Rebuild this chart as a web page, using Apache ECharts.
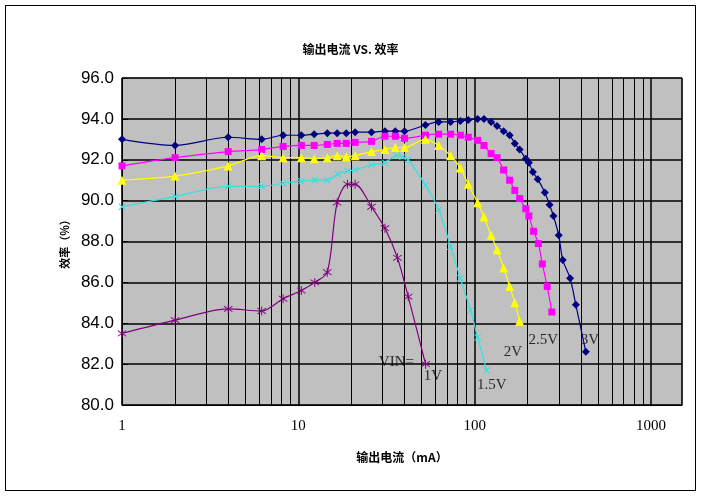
<!DOCTYPE html>
<html><head><meta charset="utf-8">
<script src="https://cdn.jsdelivr.net/npm/echarts@6/dist/echarts.min.js"></script>
<style>html,body{margin:0;padding:0;background:#fff}#c{width:701px;height:496px}
#b{position:absolute;left:5px;top:5px;width:689px;height:484px;border:1px solid #000;pointer-events:none}</style>
</head><body><div id="c"></div><div id="b"></div>
<script>
const title = '输出电流 VS. 效率';
const xName = '输出电流（mA）';
const yName = '效率（%）';
const v3 = [[1,93.0],[2,92.7],[4,93.1],[6.2,93.0],[8.2,93.2],[10.4,93.2],[12.3,93.25],[14.6,93.3],[16.6,93.3],[18.7,93.3],[21,93.35],[26,93.35],[31,93.4],[35.5,93.4],[40,93.4],[52.6,93.7],[62.5,93.85],[73,93.85],[83,93.9],[92,93.95],[104,94.0],[113,94.0],[124,93.85],[134,93.65],[146,93.4],[158,93.2],[169,92.8],[180,92.5],[195,92.05],[203,91.85],[214,91.4],[228,91.05],[250,90.4],[266,89.8],[280,89.25],[300,88.3],[316,87.1],[348,86.2],[375,84.9],[427,82.6]];
const v25 = [[1,91.7],[2,92.1],[4,92.4],[6.2,92.5],[8.2,92.65],[10.4,92.7],[12.3,92.7],[14.6,92.75],[16.6,92.8],[18.7,92.8],[21,92.85],[26,92.9],[31,93.15],[35.5,93.15],[40,93.05],[52.6,93.2],[62.5,93.25],[73,93.25],[83,93.2],[92,93.1],[104,92.95],[113,92.7],[124,92.3],[134,92.1],[146,91.5],[158,91.0],[169,90.5],[180,90.1],[195,89.6],[203,89.25],[216,88.5],[230,87.9],[242,86.9],[258,85.8],[274,84.55]];
const v2 = [[1,91.0],[2,91.2],[4,91.7],[6.2,92.2],[8.2,92.1],[10.4,92.1],[12.3,92.05],[14.6,92.1],[16.6,92.2],[18.7,92.15],[21,92.2],[26,92.4],[31,92.5],[35.5,92.6],[40,92.6],[52.6,93.0],[62.5,92.7],[73,92.2],[83,91.6],[92,90.8],[104,89.9],[113,89.2],[124,88.3],[134,87.6],[146,86.7],[158,85.8],[169,85.0],[180,84.1]];
const v15 = [[1,89.7],[2,90.2],[4,90.7],[6.2,90.7],[8.2,90.85],[10.4,90.95],[12.4,91.0],[14.6,91.0],[16.8,91.3],[19,91.45],[21,91.5],[26,91.75],[31,91.85],[36,92.2],[39,92.15],[42,92.0],[52.7,90.75],[62.6,89.55],[73,87.75],[83,86.2],[94.7,84.65],[104,83.3],[117,81.7]];
const v1 = [[1,83.5],[2,84.15],[4,84.7],[6.2,84.6],[8.2,85.2],[10.4,85.6],[12.4,86.0],[14.6,86.5],[16.6,89.9],[19,90.8],[21,90.8],[26,89.7],[31,88.65],[36.5,87.2],[42,85.3],[52.7,82.0]];
const xTicks = [1,10,100,1000];
const minorX = [2,3,4,5,6,7,8,9,20,30,40,50,60,70,80,90,200,300,400,500,600,700,800,900];
const labels = [['VIN=',36,82.1],['1V',58,81.4],['1.5V',125,81.0],['2V',165,82.6],['2.5V',245,83.2],['3V',450,83.2]];
const cross = 'path://M0,1L1,0L5,4L9,0L10,1L6,5L10,9L9,10L5,6L1,10L0,9L4,5Z';
const star = 'path://M4.5,0H5.5V4.2L9,1.5L9.6,2.3L6,5L9.6,7.7L9,8.5L5.5,5.8V10H4.5V5.8L1,8.5L0.4,7.7L4,5L0.4,2.3L1,1.5L4.5,4.2Z';
function ser(name,data,color,sym,size){return {name,type:'line',data,smooth:0.3,symbol:sym,symbolSize:size,lineStyle:{color,width:1.2},itemStyle:{color},z:5};}
const chart = echarts.init(document.getElementById('c'));
chart.setOption({
  animation:false,
  title:{text:title,left:'center',top:38,textStyle:{fontSize:12,fontWeight:'bold',color:'#000',fontFamily:'Noto Sans CJK SC'}},
  grid:{left:122,right:19,top:78,bottom:91,show:true,backgroundColor:'#c0c0c0',borderColor:'#808080',borderWidth:1},
  xAxis:{type:'log',min:1,max:1500,name:xName,nameLocation:'middle',nameGap:46,
    nameTextStyle:{fontSize:12,fontWeight:'bold',color:'#000',fontFamily:'Noto Sans CJK SC'},
    axisLine:{lineStyle:{color:'#000'}},axisTick:{show:false},
    axisLabel:{fontSize:15,color:'#000',fontFamily:'Liberation Serif',margin:14,formatter:v=>xTicks.includes(Math.round(v))?String(Math.round(v)):''},
    splitLine:{show:true,lineStyle:{color:'#000',width:1.5}}},
  yAxis:{type:'value',min:80,max:96,interval:2,name:yName,nameLocation:'middle',nameGap:50,
    nameTextStyle:{fontSize:11,fontWeight:'bold',color:'#000',fontFamily:'Noto Sans CJK SC'},
    axisLine:{show:true,lineStyle:{color:'#000'}},axisTick:{show:true,inside:true,length:6,lineStyle:{color:'#000'}},
    axisLabel:{fontSize:17,color:'#000',fontFamily:'Liberation Sans',formatter:v=>v.toFixed(1)},
    splitLine:{show:true,lineStyle:{color:'#000',width:1.5}}},
  series:[
    {type:'line',data:[],silent:true,markLine:{silent:true,symbol:'none',label:{show:false},lineStyle:{color:'#000',width:1,type:'solid'},data:minorX.map(v=>({xAxis:v}))}},
    ser('3V',v3,'#000080','diamond',8),
    ser('2.5V',v25,'#ff00ff','rect',7),
    ser('2V',v2,'#ffff00','triangle',9),
    ser('1.5V',v15,'#33e0e0',cross,7),
    ser('1V',v1,'#800080',star,9),
    {type:'scatter',data:labels.map(l=>[l[1],l[2]]),symbolSize:0,z:6,silent:true,
      label:{show:true,position:'inside',formatter:p=>labels[p.dataIndex][0],fontSize:15,color:'#000',fontFamily:'Liberation Serif'}}
  ]
});
</script></body></html>
